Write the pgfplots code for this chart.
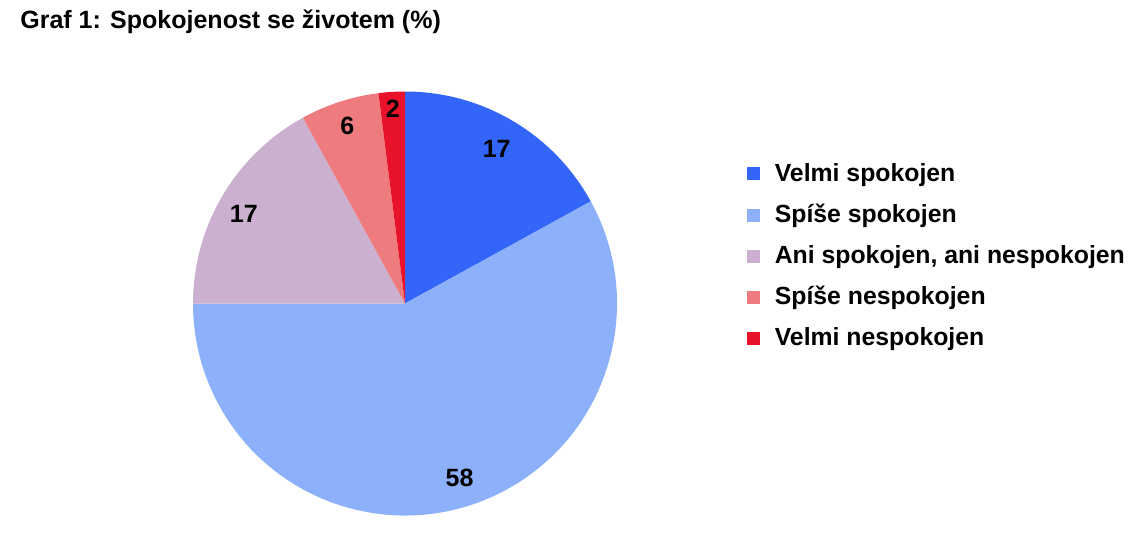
\documentclass[border=0pt]{standalone}
\usepackage{pgfplots}
\usepackage{pgfplotstable}
\pgfplotsset{compat=1.18}
\usetikzlibrary{calc}
\usepackage{fontspec}
\setmainfont{Liberation Sans}

\definecolor{c1}{HTML}{3366F8}
\definecolor{c2}{HTML}{8CB1FA}
\definecolor{c3}{HTML}{CBB0CF}
\definecolor{c4}{HTML}{EE7B7D}
\definecolor{c5}{HTML}{E8122A}

% share, colour, label radius (fraction of pie radius), label angle shift
\pgfplotstableread{
share col lab dang
17 c1 0.85 0
58 c2 0.86 3
17 c3 0.87 1.5
6  c4 0.88 0
2  c5 0.92 0
}\piedata

\begin{document}
\begin{tikzpicture}
\begin{axis}[
  scale only axis,
  width=569pt, height=273.5pt,
  xmin=0, xmax=1138, ymin=0, ymax=547,
  hide axis,
  clip=false,
  legend cell align=left,
  legend style={at={(axis cs:747,388)}, anchor=north west, draw=none, fill=none,
    font=\fontsize{12.4}{14}\selectfont\bfseries, row sep=5.9pt, inner sep=0pt},
  legend image code/.code={\fill[#1] (0pt,-3pt) rectangle (6pt,3pt);
    \path[draw=none, fill=none] (0pt,0pt) -- (11.5pt,0pt);},
]
\path (axis cs:0,0) rectangle (axis cs:1138,547);
\node[anchor=west, font=\fontsize{12.5}{14}\selectfont\bfseries, inner sep=0pt]
  at (axis cs:20,525) {Graf 1: Spokojenost se životem (\%)};

\def\start{90}
\pgfplotstablegetrowsof{\piedata}
\pgfmathtruncatemacro\last{\pgfplotsretval-1}
\pgfplotsforeachungrouped \i in {0,...,\last}{%
  \pgfplotstablegetelem{\i}{share}\of\piedata \let\sh\pgfplotsretval
  \pgfplotstablegetelem{\i}{col}\of\piedata \let\cc\pgfplotsretval
  \pgfplotstablegetelem{\i}{lab}\of\piedata \let\lr\pgfplotsretval
  \pgfplotstablegetelem{\i}{dang}\of\piedata \let\da\pgfplotsretval
  \pgfmathsetmacro\stop{\start-3.6*\sh}
  \pgfmathsetmacro\mid{(\start+\stop)/2+\da}
  \pgfmathsetmacro\lrad{106*\lr}
  \edef\temp{\noexpand\fill[\cc] (axis cs:405,243.5) -- ++(\start:106pt)
     arc[start angle=\start, end angle=\stop, radius=106pt] -- cycle;
     \noexpand\node[font=\noexpand\fontsize{12.5}{14}\noexpand\selectfont\noexpand\bfseries]
       at ($(axis cs:405,243.5)+(\mid:\lrad pt)$) {\sh};}
  \temp
  \let\start\stop
}

\addlegendimage{c1}\addlegendentry{Velmi spokojen}
\addlegendimage{c2}\addlegendentry{Spíše spokojen}
\addlegendimage{c3}\addlegendentry{Ani spokojen, ani nespokojen}
\addlegendimage{c4}\addlegendentry{Spíše nespokojen}
\addlegendimage{c5}\addlegendentry{Velmi nespokojen}
\end{axis}
\end{tikzpicture}
\end{document}
